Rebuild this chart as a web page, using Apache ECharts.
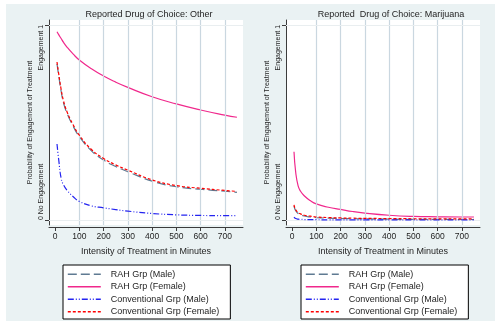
<!DOCTYPE html>
<html><head><meta charset="utf-8">
<script src="https://cdn.jsdelivr.net/npm/echarts@6/dist/echarts.min.js"></script>
<style>
html,body{margin:0;padding:0;background:#fff}
#c{width:495px;height:321px;background:linear-gradient(#eaf2f3,#eaf2f3) 6px 4px/489px 317px no-repeat,#fff}
</style>
</head><body><div id="c"></div>
<script>
// ---- data ----
const minutes = [8, 15, 25, 35, 50, 75, 100, 150, 200, 250, 300, 400, 500, 600, 700, 750];
const seriesNames = ['RAH Grp (Male)', 'RAH Grp (Female)', 'Conventional Grp (Male)', 'Conventional Grp (Female)'];
const panelTitles = ['Reported Drug of Choice: Other', 'Reported  Drug of Choice: Marijuana'];
const xAxisTitle = 'Intensity of Treatment in Minutes';
const yAxisTitle = 'Probability of Engagement of Treatment';
const xTickValues = [0, 100, 200, 300, 400, 500, 600, 700];
const xGridValues = [100, 200, 300, 400, 500, 600, 700];
const yTickValues = [0, 1];
const yTickLabelLow = '0 No Engagement';
const yTickLabelHigh = 'Engagement 1';

// Panel 1: Other
const otherRahMale    = [0.80, 0.74, 0.66, 0.60, 0.545, 0.48, 0.428, 0.355, 0.308, 0.275, 0.248, 0.200, 0.171, 0.158, 0.148, 0.142];
const otherRahFemale  = [0.965, 0.95, 0.93, 0.91, 0.885, 0.85, 0.82, 0.775, 0.738, 0.707, 0.68, 0.632, 0.595, 0.564, 0.538, 0.527];
const otherConvMale   = [0.39, 0.31, 0.215, 0.18, 0.152, 0.12, 0.096, 0.073, 0.063, 0.054, 0.046, 0.034, 0.027, 0.024, 0.023, 0.023];
const otherConvFemale = [0.81, 0.75, 0.67, 0.61, 0.553, 0.487, 0.435, 0.362, 0.316, 0.283, 0.256, 0.206, 0.177, 0.163, 0.152, 0.147];

// Panel 2: Marijuana
const mjRahMale    = [0.072, 0.048, 0.034, 0.027, 0.021, 0.016, 0.013, 0.010, 0.008, 0.007, 0.006, 0.005, 0.004, 0.004, 0.003, 0.003];
const mjRahFemale  = [0.35, 0.245, 0.175, 0.148, 0.125, 0.100, 0.083, 0.066, 0.055, 0.044, 0.036, 0.025, 0.019, 0.017, 0.016, 0.016];
const mjConvMale   = [0.015, 0.008, 0.005, 0.004, 0.003, 0.0025, 0.002, 0.0015, 0.001, 0.001, 0.001, 0.001, 0.001, 0.001, 0.001, 0.001];
const mjConvFemale = [0.078, 0.053, 0.039, 0.032, 0.025, 0.020, 0.016, 0.013, 0.011, 0.010, 0.009, 0.008, 0.007, 0.006, 0.006, 0.006];

// ---- styles ----
const FONT = "'Liberation Sans', Arial, sans-serif";
const TXT = '#1e1e1e';
const AXC = '#3c3c3c';
const lineStyles = [
  {color: '#5f7a92', width: 1.2, type: [9, 4]},
  {color: '#f0288c', width: 1.2, type: 'solid'},
  {color: '#2424f0', width: 1.2, type: [6, 2, 1, 2, 1, 2]},
  {color: '#ff0000', width: 1.2, type: [3, 2]}
];
const panels = [
  {gridLeft: 49, data: [otherRahMale, otherRahFemale, otherConvMale, otherConvFemale], title: panelTitles[0], titleX: 149, legendLeft: 63},
  {gridLeft: 286, data: [mjRahMale, mjRahFemale, mjConvMale, mjConvFemale], title: panelTitles[1], titleX: 391, legendLeft: 301}
];

const grid = [], xAxis = [], yAxis = [], series = [], title = [], legend = [];
panels.forEach((p, g) => {
  grid.push({left: p.gridLeft, top: 20, width: 194, height: 205, show: true, backgroundColor: '#ffffff', borderWidth: 0, outerBoundsMode: 'none'});
  xAxis.push({
    gridIndex: g, type: 'value', min: -25, max: 775, offset: 2,
    axisLine: {show: true, onZero: false, lineStyle: {color: AXC, width: 1}},
    axisTick: {show: true, length: 4, customValues: xTickValues, lineStyle: {color: AXC}},
    axisLabel: {customValues: xTickValues, fontSize: 8.5, margin: 5, color: TXT, fontFamily: FONT},
    splitLine: {show: false},
    name: xAxisTitle, nameLocation: 'middle', nameGap: 20,
    nameTextStyle: {fontSize: 9, color: TXT, fontFamily: FONT}
  });
  yAxis.push({
    gridIndex: g, type: 'value', min: -0.025, max: 1.025, position: 'left',
    axisLine: {show: true, onZero: false, lineStyle: {color: AXC, width: 1}},
    axisTick: {show: true, length: 4, customValues: yTickValues, lineStyle: {color: AXC}},
    axisLabel: {customValues: [1], rotate: 90, align: 'right', margin: 4, fontSize: 7, color: TXT, fontFamily: FONT,
                formatter: () => yTickLabelHigh},
    splitLine: {show: false},
    name: yAxisTitle, nameLocation: 'middle', nameGap: 15, nameMoveOverlap: false,
    nameTextStyle: {fontSize: 7, color: TXT, fontFamily: FONT}
  });
  yAxis.push({
    gridIndex: g, type: 'value', min: -0.025, max: 1.025, position: 'left',
    axisLine: {show: false, onZero: false}, axisTick: {show: false},
    axisLabel: {customValues: [0], rotate: 90, align: 'left', margin: 4, fontSize: 7, color: TXT, fontFamily: FONT,
                formatter: () => yTickLabelLow},
    splitLine: {show: false}
  });
  // gridline carrier series
  series.push({
    type: 'line', name: 'grid' + g, xAxisIndex: g, yAxisIndex: g * 2, z: 1, silent: true,
    data: minutes.map((m, i) => [m, p.data[0][i]]), symbol: 'none', lineStyle: {opacity: 0},
    markLine: {
      silent: true, symbol: 'none', label: {show: false}, animation: false,
      lineStyle: {color: '#cad7e0', width: 1.2, type: 'solid'},
      data: xGridValues.map(v => ({xAxis: v})).concat(
        yTickValues.map(v => ({yAxis: v, lineStyle: {color: '#e9eef0', width: 1, type: 'solid'}})))
    }
  });
  seriesNames.forEach((n, k) => {
    series.push({
      type: 'line', name: n, xAxisIndex: g, yAxisIndex: g * 2, z: 3 + k,
      data: minutes.map((m, i) => [m, p.data[k][i]]),
      symbol: 'none', smooth: 0.5,
      color: lineStyles[k].color, lineStyle: lineStyles[k]
    });
  });
  title.push({text: p.title, left: p.titleX, top: 10, textAlign: 'center', padding: 0,
              textStyle: {fontSize: 9, fontWeight: 'normal', color: TXT, fontFamily: FONT}});
  legend.push({
    left: p.legendLeft, top: 265, orient: 'vertical', data: seriesNames,
    itemWidth: 33, itemHeight: 12, itemGap: 0, padding: [3, 11, 1, 4],
    backgroundColor: '#ffffff', borderColor: '#000000', borderWidth: 1, borderRadius: 0,
    selectedMode: false, lineStyle: {width: 1.6}, itemStyle: {opacity: 0},
    textStyle: {fontSize: 9, lineHeight: 12.5, color: TXT, fontFamily: FONT, padding: [0, 0, 0, 5]}
  });
});

const chart = echarts.init(document.getElementById('c'), null, {renderer: 'canvas'});
chart.setOption({
  animation: false,
  textStyle: {fontFamily: FONT},
  title, legend, grid, xAxis, yAxis, series
});
</script>
</body></html>
